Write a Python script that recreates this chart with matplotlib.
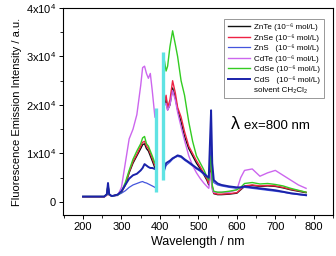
import numpy as np
import matplotlib
matplotlib.use("Agg")
import matplotlib.pyplot as plt
from matplotlib.ticker import MultipleLocator, FuncFormatter

plt.rcParams['font.family'] = ['Liberation Sans', 'DejaVu Sans']
plt.rcParams['mathtext.fontset'] = 'custom'
plt.rcParams['mathtext.rm'] = 'Liberation Sans'
plt.rcParams['mathtext.it'] = 'Liberation Sans:italic'
plt.rcParams['mathtext.bf'] = 'Liberation Sans:bold'

nan = np.nan
wavelength = [200, 220, 240, 255, 262, 265, 268, 275, 290, 300, 310, 320, 330, 340, 350, 355, 360, 365, 370, 375, 380, 387,
              398,
              412, 416, 420, 426, 433, 440, 446, 455, 464, 475, 485, 495, 505, 515, 522, 527, 530, 533, 536, 540, 550, 560,
              580, 600, 610, 620, 640, 660, 680, 700, 720, 740, 760, 780]

znte = [1100, 1100, 1100, 1100, 1500, 3500, 1500, 1200, 1500, 2000, 3500, 6000, 8000, 9500, 11000, 11800, 12000, 11000, 10500, 9500, 8500, 7000,
        nan,
        20000, 21500, 19000, 20000, 23500, 21500, 19000, 16500, 13500, 11000, 9500, 8000, 6800, 5500, 4500, 3500, 6000, 8500, 3000, 1700, 1500, 1500,
        1600, 1800, 2500, 3200, 3400, 3200, 3300, 3200, 2900, 2500, 2200, 1900]
znse = [1000, 1000, 1000, 1000, 1400, 3300, 1400, 1200, 1500, 2000, 3600, 6200, 8300, 9800, 11500, 12300, 12500, 11500, 11000, 10000, 9000, 7500,
        nan,
        20500, 22000, 19500, 21000, 25000, 22500, 19500, 17500, 14500, 11500, 10000, 8500, 7200, 5800, 4800, 3800, 6500, 9000, 3200, 1800, 1600, 1600,
        1700, 1900, 2600, 3300, 3500, 3300, 3400, 3300, 3000, 2600, 2300, 2000]
zns = [1100, 1100, 1100, 1100, 1500, 3600, 1500, 1200, 1400, 1800, 2300, 3000, 3500, 3800, 4100, 4200, 4000, 3900, 3700, 3500, 3300, 3000,
       nan,
       6500, 7500, 7800, 8200, 8800, 9200, 9400, 9200, 8600, 8000, 7400, 6800, 6300, 5600, 5100, 4800, 7000, 12000, 5000, 4000, 3500, 3300,
       3000, 2800, 2900, 3000, 2800, 2600, 2400, 2200, 2000, 1700, 1500, 1300]
cdte = [1100, 1100, 1100, 1100, 1400, 3000, 1400, 1200, 1300, 3000, 8000, 13000, 15000, 18000, 24000, 27700, 28000, 26500, 25500, 26500, 23000, 17500,
        nan,
        20000, 20300, 18900, 20000, 23000, 21000, 18500, 15500, 12700, 9500, 7500, 6000, 4800, 3800, 3200, 2800, 4500, 6000, 2500, 2000, 2000, 2000,
        2000, 2500, 5000, 6500, 6800, 5300, 6000, 6500, 5500, 4500, 3500, 2800]
cdse = [1100, 1100, 1100, 1100, 1500, 3700, 1500, 1200, 1400, 2100, 4000, 6500, 8800, 10500, 12000, 13200, 13500, 12000, 11500, 10500, 9500, 8000,
        nan,
        29000, 27000, 28000, 32000, 35300, 32500, 30000, 25000, 22000, 16500, 12500, 9500, 8000, 6500, 5200, 4500, 8000, 9500, 3500, 2200, 2000, 2000,
        2200, 2500, 3000, 3800, 4000, 3700, 3800, 3600, 3300, 2800, 2400, 2000]
cds = [1100, 1100, 1100, 1100, 1600, 3900, 1600, 1200, 1500, 2200, 3500, 4800, 5500, 5800, 6500, 7000, 7800, 7500, 7200, 7000, 7000, 6800,
       nan,
       7000, 8000, 8200, 8500, 9000, 9300, 9600, 9400, 8800, 8200, 7600, 7000, 6500, 5800, 5300, 5000, 12000, 18900, 8000, 4500, 3800, 3500,
       3200, 3000, 3000, 3200, 3000, 2800, 2600, 2400, 2100, 1800, 1600, 1400]

cyan_wl = [390, 408]
cyan_bottom = [2000, 4500]
cyan_top = [19300, 30900]

series = [
    ("ZnTe (10⁻⁶ mol/L)", znte, "#111111", 1.0),
    ("ZnSe (10⁻⁶ mol/L)", znse, "#ee2244", 1.0),
    ("ZnS   (10⁻⁶ mol/L)", zns, "#4455dd", 0.9),
    ("CdTe (10⁻⁶ mol/L)", cdte, "#cc66ee", 1.0),
    ("CdSe (10⁻⁶ mol/L)", cdse, "#33cc22", 1.0),
    ("CdS   (10⁻⁶ mol/L)", cds, "#1a22aa", 1.4),
]

fig = plt.figure(figsize=(3.36, 2.56), dpi=100)
ax = fig.add_axes([63/336, 1-215/256, 270/336, 207/256])

for lab, y, c, lw in series:
    ax.plot(wavelength, y, color=c, lw=lw, label=lab)
ax.plot([], [], color="none", label="solvent CH₂Cl₂")

ax.vlines(cyan_wl, cyan_bottom, cyan_top, color="#5fe3e3", lw=2.4)

ax.set_xlim(148, 850)
ax.set_ylim(-2700, 40000)
ax.xaxis.set_major_locator(MultipleLocator(100))
ax.xaxis.set_minor_locator(MultipleLocator(50))
ax.yaxis.set_major_locator(MultipleLocator(10000))
ax.yaxis.set_minor_locator(MultipleLocator(5000))

def yfmt(v, pos):
    if abs(v) < 1:
        return "0"
    return "%dx10$^4$" % round(v / 10000)
ax.yaxis.set_major_formatter(FuncFormatter(yfmt))
ax.tick_params(axis="both", which="major", labelsize=8, length=3, width=0.7, pad=2, direction="out")
ax.tick_params(axis="both", which="minor", length=2, width=0.6, direction="out")
for s in ax.spines.values():
    s.set_linewidth(0.8)

ax.set_xlabel("Wavelength / nm", fontsize=9, labelpad=3)
ax.set_ylabel("Fluorescence Emission Intensity / a.u.", fontsize=8, labelpad=3)

leg = ax.legend(loc="upper right", bbox_to_anchor=(0.98, 0.965), fontsize=5.8, frameon=True,
                fancybox=False, edgecolor="#888888", handlelength=2.8, labelspacing=0.36,
                borderpad=0.5, handletextpad=0.4, framealpha=1)
leg.get_frame().set_linewidth(0.6)

ax.text(0.62, 0.435, "λ", transform=ax.transAxes, fontsize=13, va="center", ha="left")
ax.text(0.672, 0.43, "ex=800 nm", transform=ax.transAxes, fontsize=9.5, va="center", ha="left")

fig.savefig("out.png", dpi=100)
